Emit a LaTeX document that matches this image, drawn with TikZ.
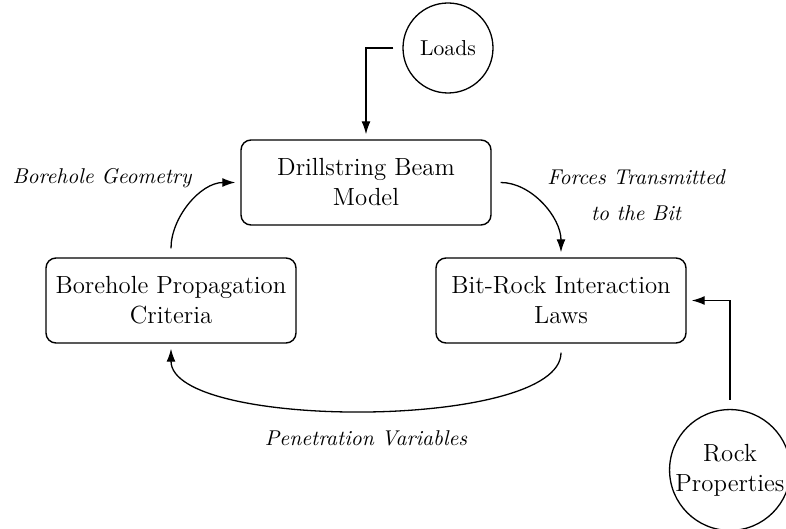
\documentclass[tikz,border=0pt]{standalone}
\usetikzlibrary{arrows.meta}

\begin{document}
\begin{tikzpicture}[x=0.5pt, y=-0.5pt, >={Latex[length=6.5pt, width=4.5pt]}, font=\fontsize{12.4}{15}\selectfont]

    \tikzstyle{block} = [draw, rectangle, rounded corners=5pt, line width=0.7pt, align=center, minimum width=125pt, minimum height=42.5pt]
    \tikzstyle{source} = [draw, circle, line width=0.65pt, align=center, inner sep=0pt]
    \tikzstyle{link} = [->, line width=0.65pt, shorten <=4.5pt, shorten >=2.5pt]
    \tikzstyle{tag} = [font=\fontsize{10.7}{18}\selectfont\itshape, align=center]

    \useasboundingbox (0,0) rectangle (786,529);

    % Models
    \node[block] (drill) at (366,182.5) {Drillstring Beam\\Model};
    \node[block] (borehole) at (171,300.5) {Borehole Propagation\\Criteria};
    \node[block] (bitrock) at (561,300.5) {Bit-Rock Interaction\\Laws};

    % External inputs
    \node[source, minimum size=45pt, font=\fontsize{10.8}{13}\selectfont] (loads) at (448,48) {Loads};
    \node[source, minimum size=58pt] (rock) at (730,470) {Rock\\Properties};

    % Loads into the beam model
    \draw[link] (loads.west) -| (drill.north);

    % Rock properties into the interaction laws
    \draw[link] (rock.north) |- (bitrock.east);

    % Loop between the three models
    \draw[link] (borehole.north) to[out=90, in=180] (drill.west);
    \draw[link] (drill.east) to[out=0, in=90] (bitrock.north);
    \draw[link] (bitrock.south) to[out=-90, in=-90, looseness=0.57] (borehole.south);

    % Labels
    \node[tag] (geom) at (102,178) {Borehole Geometry};
    \node[tag] (forces) at (636,195) {Forces Transmitted\\to the Bit};
    \node[tag] (pen) at (366,438) {Penetration Variables};
\end{tikzpicture}
\end{document}
